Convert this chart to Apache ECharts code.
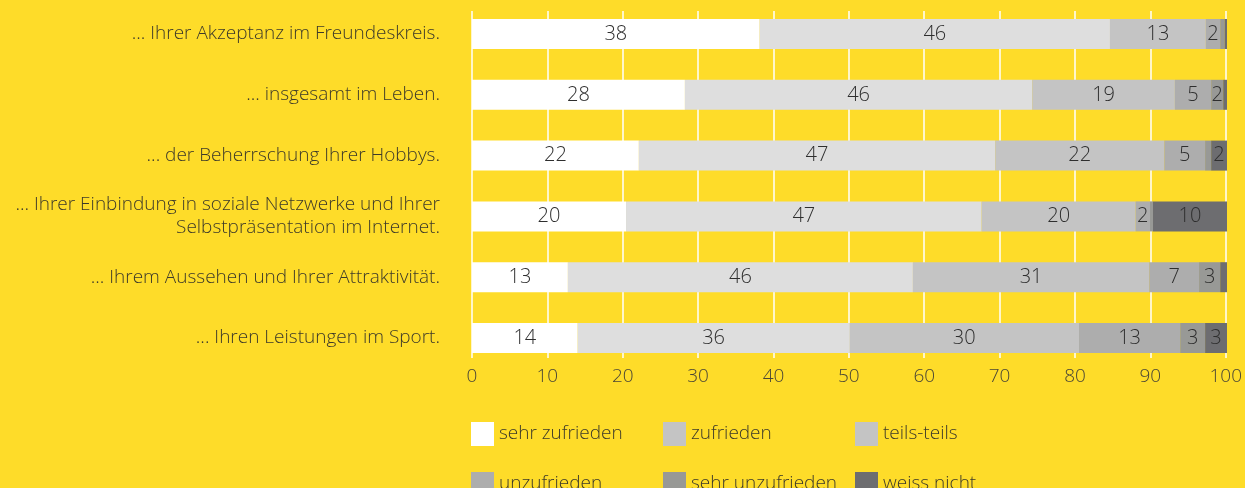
<!DOCTYPE html>
<html>
<head>
<meta charset="utf-8">
<script src="https://cdn.jsdelivr.net/npm/echarts@6/dist/echarts.min.js"></script>
<style>
  html, body { margin: 0; padding: 0; background: #FEDC29; }
  #chart { width: 1245px; height: 488px; }
</style>
</head>
<body>
<div id="chart"></div>
<script>
var categories = [
    '... Ihrer Akzeptanz im Freundeskreis.',
    '... insgesamt im Leben.',
    '... der Beherrschung Ihrer Hobbys.',
    '... Ihrer Einbindung in soziale Netzwerke und Ihrer\nSelbstpräsentation im Internet.',
    '... Ihrem Aussehen und Ihrer Attraktivität.',
    '... Ihren Leistungen im Sport.'
];
var seriesNames = ['sehr zufrieden', 'zufrieden', 'teils-teils', 'unzufrieden', 'sehr unzufrieden', 'weiss nicht'];
var sehrZufrieden   = [38.1, 28.2, 22.1, 20.4, 12.7, 14];
var zufrieden       = [46.4, 46, 47.2, 47.1, 45.7, 36];
var teilsTeils      = [12.7, 18.9, 22.4, 20.4, 31.3, 30.4];
var unzufrieden     = [1.9, 4.8, 5.4, 1.9, 6.6, 13.4];
var sehrUnzufrieden = [0.6, 1.6, 0.8, 0.4, 2.8, 3.3];
var weissNicht      = [0.3, 0.5, 2.1, 9.8, 0.9, 2.9];
var xTicks = [0, 10, 20, 30, 40, 50, 60, 70, 80, 90, 100];

var values = [sehrZufrieden, zufrieden, teilsTeils, unzufrieden, sehrUnzufrieden, weissNicht];
var colors = ['#FFFFFF', '#DEDEDE', '#C4C4C4', '#ADADAD', '#989996', '#6D6D70'];
var legendColors = ['#FFFFFF', '#C4C4C4', '#C4C4C4', '#ADADAD', '#989996', '#6D6D70'];
var font = 'Open Sans';

var chart = echarts.init(document.getElementById('chart'));

var series = seriesNames.map(function (name, i) {
    return {
        name: name,
        type: 'bar',
        stack: 'total',
        xAxisIndex: 0,
        yAxisIndex: 0,
        barWidth: 30,
        itemStyle: { color: colors[i] },
        label: {
            show: true,
            position: 'inside',
            color: '#2e2e2e',
            fontFamily: font,
            fontWeight: 300,
            fontSize: 20,
            formatter: function (p) {
                return p.value >= 1.5 ? Math.round(p.value) : '';
            }
        },
        emphasis: { disabled: true },
        data: values[i]
    };
});

// one legend per item so the columns line up like the original
var legendLeft = [466, 658, 850];
var legendTop = [417, 467];
var legends = seriesNames.map(function (n, i) {
    return {
        top: legendTop[Math.floor(i / 3)],
        left: legendLeft[i % 3],
        itemWidth: 23,
        itemHeight: 24,
        icon: 'rect',
        textStyle: { color: '#3d3a2a', fontFamily: font, fontWeight: 300, fontSize: 19 },
        data: [{ name: n, itemStyle: { color: legendColors[i] } }]
    };
});

var option = {
    backgroundColor: '#FEDC29',
    animation: false,
    legend: legends,
    grid: [
        { left: 472, right: 18, top: 3.6, bottom: 119.6 },
        { left: 472, right: 18, top: 11, bottom: 130 }
    ],
    xAxis: [
        { type: 'value', gridIndex: 0, min: 0, max: 100, show: false },
        {
            type: 'value', gridIndex: 1, min: 0, max: 100, interval: 10,
            axisLine: { show: false },
            axisTick: { show: false },
            splitLine: { show: true, lineStyle: { color: '#FFFFFF', width: 1.5 } },
            axisLabel: {
                color: '#4a4636', fontFamily: font, fontWeight: 300, fontSize: 19, margin: 9,
                formatter: function (v) { return xTicks.indexOf(v) >= 0 ? String(v) : ''; }
            }
        }
    ],
    yAxis: [
        {
            type: 'category', gridIndex: 0, inverse: true, data: categories,
            axisLine: { show: false },
            axisTick: { show: false },
            axisLabel: {
                color: '#3d3a2a', fontFamily: font, fontWeight: 300, fontSize: 19, margin: 32,
                lineHeight: 23, align: 'right'
            }
        },
        { type: 'value', gridIndex: 1, show: false }
    ],
    series: series
};
chart.setOption(option);
</script>
</body>
</html>
